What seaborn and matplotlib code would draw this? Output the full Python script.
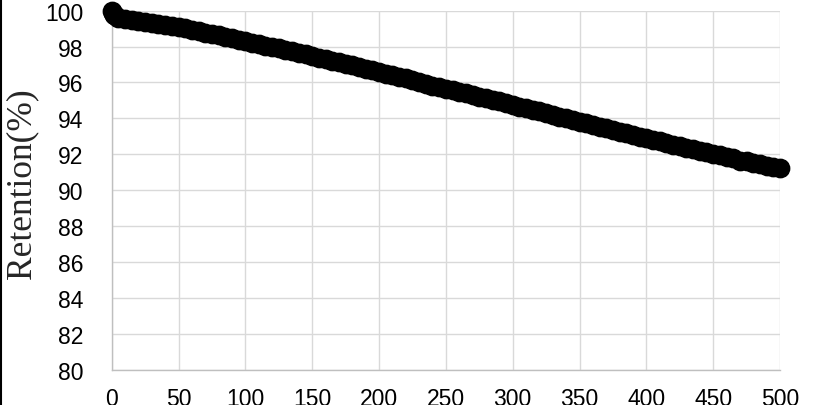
import matplotlib
matplotlib.use("Agg")
import matplotlib.pyplot as plt
import seaborn as sns
import pandas as pd
from matplotlib.lines import Line2D

# cycle number and capacity retention
cycles = [0, 1, 2, 3] + list(range(5, 501, 5))
retention = [
    100.00, 99.86, 99.76, 99.69,
    99.62, 99.54, 99.48, 99.43, 99.38, 99.33, 99.27, 99.21, 99.15, 99.08,
    99.01, 98.93, 98.85, 98.78, 98.70, 98.62, 98.54, 98.46, 98.38, 98.30,
    98.22, 98.14, 98.06, 97.98, 97.90, 97.82, 97.74, 97.65, 97.56, 97.47,
    97.38, 97.30, 97.21, 97.13, 97.04, 96.95, 96.86, 96.77, 96.68, 96.59,
    96.50, 96.41, 96.32, 96.24, 96.14, 96.00, 95.91, 95.83, 95.74, 95.65,
    95.57, 95.48, 95.39, 95.30, 95.21, 95.12, 95.04, 94.95, 94.85, 94.76,
    94.66, 94.57, 94.48, 94.39, 94.29, 94.20, 94.10, 94.01, 93.92, 93.82,
    93.72, 93.63, 93.53, 93.44, 93.35, 93.26, 93.17, 93.08, 92.99, 92.90,
    92.81, 92.72, 92.63, 92.54, 92.45, 92.37, 92.28, 92.19, 92.11, 92.02,
    91.94, 91.85, 91.77, 91.63, 91.60, 91.52, 91.44, 91.36, 91.29, 91.22,
]
x_ticks = list(range(0, 501, 50))
y_ticks = list(range(80, 101, 2))

df = pd.DataFrame({"cycle": cycles, "retention": retention})

sns.set_style("whitegrid")
plt.rcParams["font.family"] = ["Liberation Sans", "DejaVu Sans"]

fig = plt.figure(figsize=(8.13, 4.06), dpi=100)
ax = fig.add_axes([0.1374, 0.0869, 0.8220, 0.8843])

sns.scatterplot(data=df, x="cycle", y="retention", ax=ax, color="black",
                edgecolor="black", s=175, linewidth=1, clip_on=False, zorder=5)

ax.set_xlim(0, 500)
ax.set_ylim(80, 100)
ax.set_xticks(x_ticks)
ax.set_yticks(y_ticks)
ax.set_xlabel("")
ax.set_ylabel("Retention(%)", fontfamily="Liberation Serif", fontsize=25.5)
ax.yaxis.set_label_coords(-0.11, 0.52)

ax.grid(True, color="#d9d9d9", linewidth=1)
for side in ["top", "right"]:
    ax.spines[side].set_visible(False)
for side in ["left", "bottom"]:
    ax.spines[side].set_color("#bfbfbf")
    ax.spines[side].set_linewidth(1)
ax.tick_params(axis="both", direction="out", length=4.5, width=1,
               color="#bfbfbf", labelsize=16.5, labelcolor="black")
ax.tick_params(axis="y", pad=16)
ax.tick_params(axis="x", pad=8)

# thin frame edge on the left of the image
fig.add_artist(Line2D([0.001, 0.001], [0, 1], transform=fig.transFigure,
                      color="black", linewidth=1.5))

fig.savefig("out.png", dpi=100)
